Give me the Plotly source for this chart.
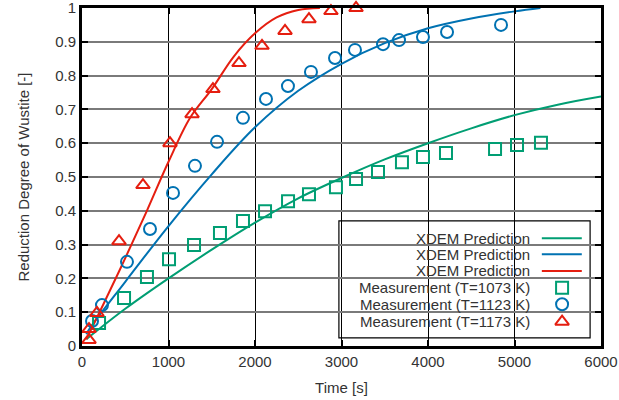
import plotly.graph_objects as go

# Measured reduction degree of wustite at three temperatures
t_1073 = [197, 486, 751, 1006, 1295, 1595, 1861, 2116, 2382, 2624, 2936, 3168,
          3422, 3699, 3942, 4208, 4775, 5029, 5306]
r_1073 = [0.068, 0.142, 0.204, 0.257, 0.299, 0.334, 0.370, 0.399, 0.428, 0.449,
          0.470, 0.494, 0.515, 0.544, 0.559, 0.571, 0.583, 0.595, 0.601]

t_1123 = [116, 231, 520, 786, 1052, 1306, 1561, 1861, 2127, 2381, 2647, 2925,
          3156, 3480, 3665, 3942, 4220, 4844]
r_1123 = [0.074, 0.121, 0.249, 0.346, 0.453, 0.533, 0.604, 0.675, 0.731, 0.769,
          0.811, 0.852, 0.876, 0.893, 0.905, 0.914, 0.929, 0.950]

t_1173 = [81, 81, 173, 428, 705, 1017, 1272, 1514, 1815, 2081, 2347, 2624, 2878, 3168]
r_1173 = [0.018, 0.050, 0.098, 0.310, 0.476, 0.600, 0.686, 0.760, 0.837, 0.888,
          0.932, 0.967, 0.991, 1.000]

# XDEM predicted curves
tp_1073 = [50, 500, 1000, 1500, 2000, 2500, 3000, 3500, 4000, 4500, 5000, 5500, 6000]
rp_1073 = [0.020, 0.110, 0.200, 0.285, 0.365, 0.437, 0.497, 0.552, 0.600, 0.644,
           0.683, 0.714, 0.738]

tp_1123 = [50, 100, 500, 1000, 1500, 2000, 2500, 3000, 3500, 4000, 4500, 5000, 5300]
rp_1123 = [0.035, 0.056, 0.190, 0.355, 0.508, 0.647, 0.755, 0.835, 0.896, 0.940,
           0.969, 0.990, 1.000]

tp_1173 = [50, 250, 500, 750, 1000, 1250, 1500, 1750, 2000, 2250, 2500, 2750]
rp_1173 = [0.020, 0.125, 0.260, 0.400, 0.545, 0.675, 0.760, 0.855, 0.925, 0.972,
           0.994, 1.000]

x_ticks = [0, 1000, 2000, 3000, 4000, 5000, 6000]
y_ticks = [0, 0.1, 0.2, 0.3, 0.4, 0.5, 0.6, 0.7, 0.8, 0.9, 1]
y_tick_text = ["0", "0.1", "0.2", "0.3", "0.4", "0.5", "0.6", "0.7", "0.8", "0.9", "1"]

GREEN = "#009e73"
BLUE = "#0072b2"
RED = "#e51e10"
FONT = "Liberation Sans"
TXT = "#333333"

fig = go.Figure()

for t, r, c in [(tp_1073, rp_1073, GREEN), (tp_1123, rp_1123, BLUE), (tp_1173, rp_1173, RED)]:
    fig.add_trace(go.Scatter(x=t, y=r, mode="lines", line=dict(color=c, width=2, shape="spline"),
                             showlegend=False))

for t, r, c, sym, sz in [(t_1073, r_1073, GREEN, "square-open", 12),
                         (t_1123, r_1123, BLUE, "circle-open", 12),
                         (t_1173, r_1173, RED, "triangle-up-open", 12)]:
    fig.add_trace(go.Scatter(x=t, y=r, mode="markers",
                             marker=dict(symbol=sym, size=sz, color=c, line=dict(color=c, width=2)),
                             showlegend=False, cliponaxis=False))

# Key drawn in the lower-right corner, symbols to the right of the labels
key_labels = ["XDEM Prediction", "XDEM Prediction", "XDEM Prediction",
              "Measurement (T=1073 K)", "Measurement (T=1123 K)", "Measurement (T=1173 K)"]
key_rows = [0.3186, 0.2713, 0.2219, 0.1726, 0.1234, 0.0719]
key_text_x = 0.8665
key_line_x = (0.886, 0.963)
key_mark_x = 0.925

shapes = [dict(type="rect", xref="paper", yref="paper", x0=0.495, x1=0.979, y0=0.024, y1=0.370,
               fillcolor="white", line=dict(color="black", width=1.2), layer="between")]
for yy, c in zip(key_rows[:3], [GREEN, BLUE, RED]):
    shapes.append(dict(type="line", xref="paper", yref="paper", x0=key_line_x[0], x1=key_line_x[1],
                       y0=yy, y1=yy, line=dict(color=c, width=2)))

annotations = [dict(xref="paper", yref="paper", x=key_text_x, y=yy, text=lab, showarrow=False,
                    xanchor="right", yanchor="middle", font=dict(family=FONT, size=15, color=TXT))
               for yy, lab in zip(key_rows, key_labels)]

for yy, c, sym in zip(key_rows[3:], [GREEN, BLUE, RED],
                      ["square-open", "circle-open", "triangle-up-open"]):
    fig.add_trace(go.Scatter(x=[key_mark_x], y=[yy], xaxis="x2", yaxis="y2", mode="markers",
                             marker=dict(symbol=sym, size=12, color=c, line=dict(color=c, width=2)),
                             showlegend=False, hoverinfo="skip"))

axis_common = dict(showline=True, linecolor="black", linewidth=3, mirror="ticks",
                   ticks="inside", ticklen=6, tickwidth=2, tickcolor="black",
                   zeroline=False, automargin=False, ticklabeloverflow="allow",
                   tickfont=dict(family=FONT, size=15, color=TXT))

fig.update_layout(
    width=619, height=400,
    margin=dict(l=82, r=18, t=8, b=54),
    plot_bgcolor="white", paper_bgcolor="white",
    font=dict(family=FONT, size=15, color=TXT),
    xaxis=dict(range=[0, 6000], tickvals=x_ticks, showgrid=True, gridcolor="black", gridwidth=1,
               title=dict(text="Time [s]", font=dict(family=FONT, size=15, color=TXT), standoff=14),
               **axis_common),
    yaxis=dict(range=[0, 1], tickvals=y_ticks, ticktext=y_tick_text, showgrid=True,
               gridcolor="#7a7a7a", gridwidth=2,
               title=dict(text="Reduction Degree of Wustite [-]",
                          font=dict(family=FONT, size=15, color=TXT), standoff=22),
               **axis_common),
    xaxis2=dict(range=[0, 1], overlaying="x", visible=False),
    yaxis2=dict(range=[0, 1], overlaying="y", visible=False),
    shapes=shapes,
    annotations=annotations,
)

fig.write_html("out.html")
